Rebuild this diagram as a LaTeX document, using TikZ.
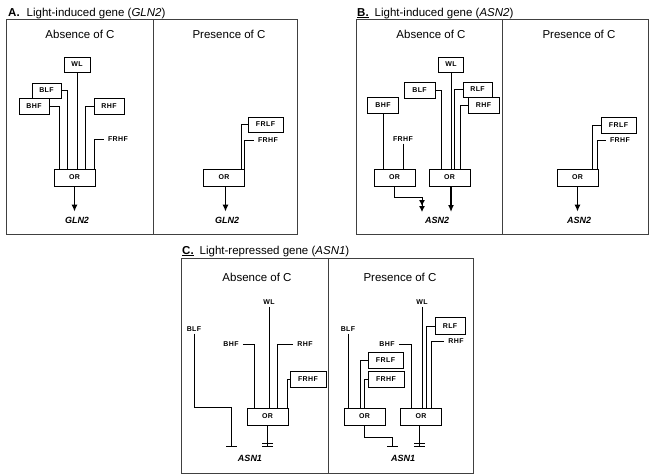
\documentclass[tikz,border=0pt]{standalone}
\usepackage{fontspec}
\setmainfont{Liberation Sans}
\newfontfamily\factorfont[LetterSpace=6]{Liberation Sans}
\usetikzlibrary{arrows.meta, positioning}
\tikzset{
frame/.style={draw=black!75, line width=0.8pt}, % outline of each panel
title/.style={font=\fontsize{11.5}{13}\selectfont, inner sep=0pt, anchor=base west}, % panel titles
head/.style={font=\fontsize{11.5}{13}\selectfont, inner sep=0pt, anchor=base}, % absence / presence headings
lbl/.style={font=\factorfont\bfseries\fontsize{7}{8}\selectfont, inner xsep=4pt, inner ysep=2pt}, % factor without a box
factor/.style={lbl, draw, fill=white, line width=0.7pt, minimum width=30pt, minimum height=16pt, inner sep=0pt}, % boxed factor
orgate/.style={factor, minimum width=41pt, minimum height=17pt}, % the OR box
gene/.style={font=\bfseries\itshape\fontsize{9}{10}\selectfont, inner sep=2pt}, % gene names
wire/.style={line width=0.7pt}, % factor to OR
act/.style={line width=1.3pt, -{Latex[length=7pt,width=6pt]}, shorten >=3pt}, % activation
acttwo/.style={line width=0.9pt, -{Latex[length=6pt,width=6pt]Latex[length=6pt,width=6pt]}}, % double activation
rep/.style={line width=0.7pt, -{Bar[width=11pt]}}, % repression
reptwo/.style={line width=0.7pt, -{Bar[width=11pt,sep=3pt]Bar[width=11pt]}}, % strong repression
}

\begin{document}
\begin{tikzpicture}[x=1pt, y=-1pt]
    \useasboundingbox (0,0) rectangle (650,475);

    % ---- A. GLN2
    \node[title] (titleA) at (8,16) {\textbf{A.}\hspace{7pt}Light-induced gene (\textit{GLN2})};
    \draw[frame] (6,19) rectangle (297,234);
    \draw[frame] (153,19) -- (153,234);
    \node[head] (absA) at (80,38) {Absence of C};
    \node[head] (preA) at (229,38) {Presence of C};

    \node[factor, minimum width=26pt, minimum height=15pt] (wlA) at (77,64.5) {WL};
    \node[factor, minimum width=29pt, minimum height=15pt] (blfA) at (46.5,90.5) {BLF};
    \node[factor] (bhfA) at (34,106) {BHF};
    \node[factor] (rhfA) at (109,106) {RHF};
    \node[lbl] (frhfA) at (118,139) {FRHF};
    \node[orgate] (orA) at (74.5,177.5) {OR};
    \node[gene] (glnA) at (77,220) {GLN2};
    \draw[wire]
    (bhfA.east) -| ([xshift=6pt]orA.north west)
    (blfA.east) -| ([xshift=14pt]orA.north west)
    (wlA.south) -- (wlA.south |- orA.north)
    (rhfA.west) -| ([xshift=32pt]orA.north west)
    (frhfA.west) -| ([xshift=-1pt]orA.north east);
    \draw[act] (orA.south) -- (orA.south |- glnA.north);

    \node[factor, minimum width=35pt, minimum height=15pt] (frlfA2) at (265.5,124.5) {FRLF};
    \node[lbl] (frhfA2) at (268,140) {FRHF};
    \node[orgate] (orA2) at (224,177.5) {OR};
    \node[gene] (glnA2) at (227,220) {GLN2};
    \draw[wire]
    (frlfA2.west) -| ([xshift=-4pt]orA2.north east)
    (frhfA2.west) -| ([xshift=-1pt]orA2.north east);
    \draw[act] ([xshift=1.5pt]orA2.south) -- ([xshift=1.5pt]orA2.south |- glnA2.north);

    % ---- B. ASN2
    \node[title] (titleB) at (357,16) {\underline{\textbf{B.}}\hspace{6pt}Light-induced gene (\textit{ASN2})};
    \draw[frame] (356,19) rectangle (648,234);
    \draw[frame] (502,19) -- (502,234);
    \node[head] (absB) at (431,38) {Absence of C};
    \node[head] (preB) at (579,38) {Presence of C};

    \node[factor, minimum width=25pt, minimum height=15pt] (wlB) at (451,64.5) {WL};
    \node[factor, minimum width=31pt] (blfB) at (419.5,90) {BLF};
    \node[factor, minimum width=29pt, minimum height=15pt] (rlfB) at (477.5,89.5) {RLF};
    \node[factor, minimum width=31pt] (rhfB) at (483.5,105) {RHF};
    \node[factor, minimum width=31pt] (bhfB) at (383,105) {BHF};
    \node[lbl] (frhfB) at (403,139) {FRHF};
    \node[orgate] (orB1) at (394.5,177.5) {OR};
    \node[orgate] (orB2) at (449.5,177.5) {OR};
    \node[gene] (asnB) at (437,220) {ASN2};
    \coordinate (jB) at (422,212);
    \draw[wire]
    (bhfB.south) -- (bhfB.south |- orB1.north)
    (frhfB.south) -- (frhfB.south |- orB1.north)
    (blfB.east) -| ([xshift=13pt]orB2.north west)
    (wlB.south) -- (wlB.south |- orB2.north)
    (rlfB.west) -| ([xshift=26pt]orB2.north west)
    (rhfB.west) -| ([xshift=32pt]orB2.north west);
    \draw[acttwo] (orB1.south) -- ++(0,11) -| (jB);
    \draw[act, shorten >=0pt] ([xshift=1.5pt]orB2.south) -- ([xshift=1.5pt]orB2.south |- jB);

    \node[factor, minimum width=35pt] (frlfB3) at (618.5,125) {FRLF};
    \node[lbl] (frhfB3) at (620,140) {FRHF};
    \node[orgate] (orB3) at (577.5,177.5) {OR};
    \node[gene] (asnB3) at (579,220) {ASN2};
    \draw[wire]
    (frlfB3.west) -| ([xshift=-6pt]orB3.north east)
    (frhfB3.west) -| ([xshift=-1pt]orB3.north east);
    \draw[act] (orB3.south) -- (orB3.south |- asnB3.north);

    % ---- C. ASN1
    \node[title] (titleC) at (182,254) {\underline{\textbf{C.}}\hspace{6pt}Light-repressed gene (\textit{ASN1})};
    \draw[frame] (181,258) rectangle (473,473);
    \draw[frame] (328,258) -- (328,473);
    \node[head] (absC) at (257,281) {Absence of C};
    \node[head] (preC) at (400,281) {Presence of C};

    \node[lbl] (wlC) at (269,302) {WL};
    \node[lbl] (blfC) at (194,329) {BLF};
    \node[lbl] (bhfC) at (231,344) {BHF};
    \node[lbl] (rhfC) at (305,344) {RHF};
    \node[factor, minimum width=36pt] (frhfC) at (308,379) {FRHF};
    \node[orgate] (orC) at (267.5,416.5) {OR};
    \node[gene] (asnC) at (250,458) {ASN1};
    \coordinate (rC) at (231,447);
    \draw[wire]
    (wlC.south) -- (wlC.south |- orC.north)
    (bhfC.east) -| ([xshift=8pt]orC.north west)
    (rhfC.west) -| ([xshift=31pt]orC.north west)
    (frhfC.west) -| ([xshift=-1pt]orC.north east);
    \draw[rep] (blfC.south) |- (rC |- orC.north) -- (rC);
    \draw[reptwo] (orC.south) -- (orC.south |- rC);

    \node[lbl] (blfC2) at (348,329) {BLF};
    \node[factor, minimum width=35pt] (frlfC2) at (385.5,360) {FRLF};
    \node[factor, minimum width=36pt] (frhfC2) at (386,379) {FRHF};
    \node[orgate] (orC1) at (364.5,416.5) {OR};
    \node[lbl] (bhfC2) at (387,344) {BHF};
    \node[lbl] (wlC2) at (422,302) {WL};
    \node[factor, minimum height=17pt] (rlfC2) at (450,326) {RLF};
    \node[lbl] (rhfC2) at (456,341) {RHF};
    \node[orgate] (orC2) at (421,416.5) {OR};
    \node[gene] (asnC2) at (403,458) {ASN1};
    \coordinate (rC2) at (392,447);
    \draw[wire]
    (blfC2.south) -- (blfC2.south |- orC1.north)
    (frlfC2.west) -| ([xshift=17pt]orC1.north west)
    (frhfC2.west) -| ([xshift=21pt]orC1.north west)
    (bhfC2.east) -| ([xshift=11pt]orC2.north west)
    (wlC2.south) -- (wlC2.south |- orC2.north)
    (rlfC2.west) -| ([xshift=26pt]orC2.north west)
    (rhfC2.west) -| ([xshift=31pt]orC2.north west);
    \draw[rep] (orC1.south) -- ++(0,12) -| (rC2);
    \draw[reptwo] ([xshift=-2pt]orC2.south) -- ([xshift=-2pt]orC2.south |- rC2);
  \end{tikzpicture}
\end{document}
